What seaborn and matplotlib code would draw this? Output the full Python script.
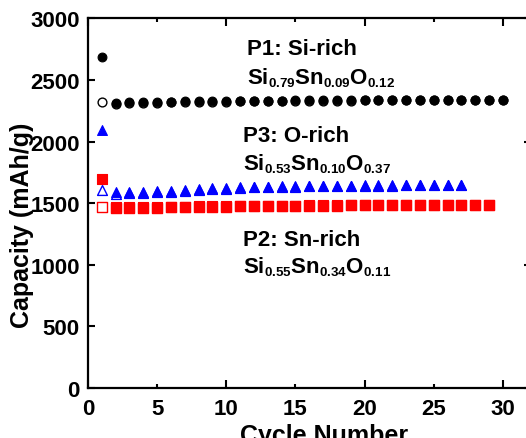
import matplotlib
matplotlib.use('Agg')
import matplotlib.pyplot as plt
import seaborn as sns
import pandas as pd

try:
    import matplotlib._mathtext as _mt
    _mt.SHRINK_FACTOR = 0.6
except Exception:
    pass

# ---------------- data ----------------
cyc_p1 = list(range(1, 31))
p1_dis = [2690, 2315, 2318, 2320, 2322, 2324, 2325, 2326, 2328, 2328, 2330,
          2330, 2331, 2332, 2333, 2333, 2334, 2335, 2335, 2336, 2336, 2337,
          2337, 2338, 2338, 2339, 2339, 2340, 2340, 2340]
p1_chg = [2318, 2307, 2310, 2313, 2316, 2318, 2320, 2321, 2323, 2324, 2326,
          2326, 2327, 2328, 2329, 2330, 2331, 2332, 2332, 2333, 2333, 2334,
          2334, 2335, 2335, 2336, 2336, 2337, 2337, 2337]

cyc_p3 = list(range(1, 28))
p3_dis = [2090, 1588, 1590, 1594, 1598, 1602, 1608, 1614, 1620, 1624, 1628,
          1631, 1634, 1636, 1638, 1640, 1641, 1642, 1643, 1644, 1645, 1646,
          1647, 1648, 1649, 1650, 1650]
p3_chg = [1608, 1576, 1579, 1583, 1588, 1592, 1598, 1605, 1612, 1618, 1623,
          1627, 1630, 1633, 1635, 1637, 1638, 1639, 1640, 1641, 1642, 1643,
          1644, 1645, 1646, 1647, 1647]

cyc_p2 = list(range(1, 30))
p2_dis = [1700, 1465, 1466, 1467, 1469, 1470, 1472, 1473, 1474, 1475, 1476,
          1477, 1478, 1479, 1480, 1481, 1482, 1483, 1483, 1484, 1485, 1485,
          1486, 1487, 1487, 1488, 1488, 1489, 1489]
p2_chg = [1470, 1459, 1461, 1462, 1464, 1466, 1468, 1470, 1471, 1472, 1473,
          1474, 1475, 1476, 1477, 1478, 1479, 1480, 1481, 1482, 1483, 1483,
          1484, 1485, 1485, 1486, 1486, 1487, 1487]

x_ticks_major = [0, 10, 20, 30]
x_ticks_minor = [5, 15, 25]
y_ticks_major = [0, 1000, 2000, 3000]
y_ticks_minor = [500, 1500, 2500]

labels_txt = [
    ("P1: Si-rich", r"Si$_{0.79}$Sn$_{0.09}$O$_{0.12}$"),
    ("P3: O-rich", r"Si$_{0.53}$Sn$_{0.10}$O$_{0.37}$"),
    ("P2: Sn-rich", r"Si$_{0.55}$Sn$_{0.34}$O$_{0.11}$"),
]

# ---------------- style ----------------
sns.set_theme(style='white')
plt.rcParams['font.family'] = ['Liberation Sans', 'DejaVu Sans']
plt.rcParams['font.weight'] = 'bold'
plt.rcParams['mathtext.fontset'] = 'custom'
plt.rcParams['mathtext.rm'] = 'Liberation Sans:bold'
plt.rcParams['mathtext.bf'] = 'Liberation Sans:bold'
plt.rcParams['mathtext.it'] = 'Liberation Sans:bold'
plt.rcParams['mathtext.default'] = 'rm'

W, H = 526, 439
fig = plt.figure(figsize=(W / 100, H / 100), dpi=100)
AX_L, AX_R, AX_T, AX_B = 88, 530.6, 19.3, 389
ax = fig.add_axes([AX_L / W, (H - AX_B) / H, (AX_R - AX_L) / W, (AX_B - AX_T) / H])

series = [
    (cyc_p1, p1_dis, p1_chg, 'black', 'o', 40),
    (cyc_p3, p3_dis, p3_chg, 'blue', '^', 50),
    (cyc_p2, p2_dis, p2_chg, 'red', 's', 42),
]

for cyc, dis, chg, col, mk, s in series:
    dfc = pd.DataFrame({'cycle': cyc, 'cap': chg})
    sns.scatterplot(data=dfc, x='cycle', y='cap', ax=ax, marker=mk, s=s,
                    color=col, facecolor='white', edgecolor=col,
                    linewidth=1.0, zorder=3, legend=False)
    dfd = pd.DataFrame({'cycle': cyc[1:], 'cap': dis[1:]})
    sns.scatterplot(data=dfd, x='cycle', y='cap', ax=ax, marker=mk, s=s,
                    color=col, edgecolor=col, linewidth=0.8, zorder=4,
                    legend=False)
    df1 = pd.DataFrame({'cycle': cyc[:1], 'cap': dis[:1]})
    sns.scatterplot(data=df1, x='cycle', y='cap', ax=ax, marker=mk, s=s,
                    color=col, edgecolor=col, linewidth=0.8, zorder=4,
                    legend=False)

ax.set_xlim(0, 32)
ax.set_ylim(0, 3000)

ax.set_xticks(x_ticks_major, labels=[str(v) for v in x_ticks_major])
ax.set_xticks(x_ticks_minor, labels=[str(v) for v in x_ticks_minor], minor=True)
ax.set_yticks(y_ticks_major, labels=[str(v) for v in y_ticks_major])
ax.set_yticks(y_ticks_minor, labels=[str(v) for v in y_ticks_minor], minor=True)

TL = 16
ax.tick_params(axis='x', which='major', direction='in', length=5.5, width=1.5,
               top=True, bottom=True, labelsize=TL, pad=7, colors='black')
ax.tick_params(axis='x', which='minor', direction='in', length=3, width=1.5,
               top=True, bottom=True, labelsize=TL, pad=7, colors='black')
ax.tick_params(axis='y', which='major', direction='in', length=5, width=1.5,
               left=True, right=True, labelsize=TL, pad=6, colors='black')
ax.tick_params(axis='y', which='minor', direction='in', length=5, width=1.5,
               left=True, right=False, labelsize=TL, pad=6, colors='black')
for lab in ax.get_xticklabels(which='both') + ax.get_yticklabels(which='both'):
    lab.set_fontweight('bold')

for sp in ax.spines.values():
    sp.set_visible(True)
    sp.set_color('black')
    sp.set_linewidth(1.6)

ax.set_xlabel('Cycle Number', fontsize=18, fontweight='bold', color='black')
ax.set_ylabel('Capacity (mAh/g)', fontsize=18, fontweight='bold', color='black')
AW, AH = AX_R - AX_L, AX_B - AX_T
ax.xaxis.set_label_coords((324 - AX_L) / AW, -(424 - AX_B) / AH)
ax.yaxis.set_label_coords(-(AX_L - 34) / AW, (AX_B - 225) / AH)
ax.grid(False)

pos = [(11.5, 2751, 2524), (11.2, 2045, 1826), (11.2, 1209, 990)]
for (t1, t2), (xx, y1, y2) in zip(labels_txt, pos):
    ax.text(xx, y1, t1, fontsize=16, fontweight='bold', va='center', ha='left',
            color='black')
    ax.text(xx, y2, t2, fontsize=16, fontweight='bold', va='center', ha='left',
            color='black')

fig.savefig('out.png', dpi=100)
